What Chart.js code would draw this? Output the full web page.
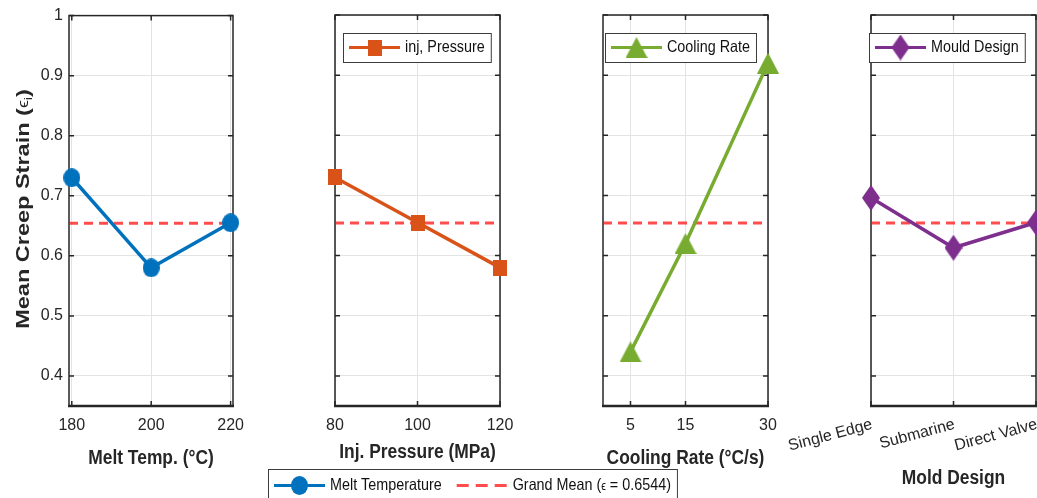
<!DOCTYPE html>
<html>
<head>
<meta charset="utf-8">
<script src="https://cdn.jsdelivr.net/npm/chart.js@4.4.1/dist/chart.umd.min.js"></script>
<style>
  html, body { margin: 0; padding: 0; background: #fff; }
  #wrap { position: relative; width: 1037px; height: 498px; overflow: hidden; }
  #wrap canvas { position: absolute; left: 0; top: 0; }
</style>
</head>
<body>
<div id="wrap">
  <canvas id="melt" width="1037" height="498"></canvas>
  <canvas id="pressure" width="1037" height="498"></canvas>
  <canvas id="cooling" width="1037" height="498"></canvas>
  <canvas id="mould" width="1037" height="498"></canvas>
</div>
<script>
// data
const meltTemps = [180, 200, 220];
const meltStrain = [0.73, 0.58, 0.655];
const pressures = [80, 100, 120];
const pressureStrain = [0.73, 0.655, 0.58];
const coolingRates = [5, 15, 30];
const coolingStrain = [0.44, 0.62, 0.92];
const mouldDesigns = ['Single Edge', 'Submarine', 'Direct Valve'];
const mouldStrain = [0.696, 0.613, 0.655];
const grandMean = 0.6544;
const strainTicks = [0.4, 0.5, 0.6, 0.7, 0.8, 0.9, 1];

const SANS = "'Liberation Sans', Arial, sans-serif";
const TEXT = '#262626';
const GRID = '#e3e3e3';
const MEAN_RED = 'rgba(255, 0, 0, 0.7)';
const SQUEEZE = 0.87; // the original text is set narrow

function makeMarker(shape, w, h, color) {
  const c = document.createElement('canvas');
  c.width = w; c.height = h;
  const g = c.getContext('2d');
  g.fillStyle = color;
  g.beginPath();
  if (shape === 'circle') g.ellipse(w / 2, h / 2, w / 2, h / 2, 0, 0, Math.PI * 2);
  else if (shape === 'square') g.rect(0, 0, w, h);
  else if (shape === 'triangle') { g.moveTo(w / 2, 0); g.lineTo(w, h); g.lineTo(0, h); g.closePath(); }
  else { g.moveTo(w / 2, 0); g.lineTo(w, h / 2); g.lineTo(w / 2, h); g.lineTo(0, h / 2); g.closePath(); }
  g.fill();
  return c;
}

const blue = '#0072BD', orange = '#D95319', green = '#77AC30', purple = '#7E2F8E';
const circle = makeMarker('circle', 17, 19, blue);
const square = makeMarker('square', 14, 16, orange);
const triangle = makeMarker('triangle', 22, 21, green);
const diamond = makeMarker('diamond', 18, 26, purple);

// text pieces drawn one after another: [text, font, dy], squeezed sideways
function runsWidth(ctx, runs, sx) {
  let w = 0;
  runs.forEach(r => { ctx.font = r[1]; w += ctx.measureText(r[0]).width * sx; });
  return w;
}
function drawRuns(ctx, x, y, runs, sx) {
  runs.forEach(r => {
    ctx.font = r[1];
    ctx.save();
    ctx.translate(x, y + (r[2] || 0));
    ctx.scale(sx, 1);
    ctx.fillText(r[0], 0, 0);
    ctx.restore();
    x += ctx.measureText(r[0]).width * sx;
  });
  return x;
}

function drawLegend(ctx, left, top, h, items) {
  const cy = top + h / 2;
  ctx.save();
  ctx.textBaseline = 'middle';
  let x = left + 6;
  const parts = [];
  items.forEach((it, i) => {
    if (i > 0) x += 15;
    parts.push({ it, x });
    x += 51 + 5;
    x += runsWidth(ctx, it.runs, SQUEEZE);
  });
  const right = x + 6;
  ctx.fillStyle = '#fff';
  ctx.fillRect(left, top, right - left, h);
  ctx.strokeStyle = '#3c3c3c';
  ctx.lineWidth = 1;
  ctx.strokeRect(left + 0.5, top + 0.5, right - left, h);
  parts.forEach(p => {
    ctx.beginPath();
    ctx.strokeStyle = p.it.color;
    ctx.lineWidth = 3;
    ctx.setLineDash(p.it.dash || []);
    ctx.moveTo(p.x, cy);
    ctx.lineTo(p.x + 51, cy);
    ctx.stroke();
    ctx.setLineDash([]);
    if (p.it.marker) {
      const m = p.it.marker;
      ctx.drawImage(m, p.x + 25.5 - m.width / 2, cy - m.height / 2);
    }
    ctx.fillStyle = '#111';
    drawRuns(ctx, p.x + 56, cy, p.it.runs, SQUEEZE);
  });
  ctx.restore();
}

const frame = {
  id: 'frame',
  beforeDatasetsDraw(chart) {
    const { ctx, chartArea: a, scales: { x, y } } = chart;
    ctx.save();
    ctx.strokeStyle = TEXT;
    ctx.lineWidth = 1.5;
    ctx.beginPath();
    y.ticks.forEach(t => {
      const py = y.getPixelForValue(t.value);
      ctx.moveTo(a.left, py); ctx.lineTo(a.left + 5, py);
      ctx.moveTo(a.right, py); ctx.lineTo(a.right - 5, py);
    });
    x.ticks.forEach((t, i) => {
      const px = x.getPixelForTick(i);
      ctx.moveTo(px, a.bottom); ctx.lineTo(px, a.bottom - 5);
      ctx.moveTo(px, a.top); ctx.lineTo(px, a.top + 5);
    });
    ctx.stroke();
    ctx.strokeRect(a.left, a.top, a.width, a.height);
    ctx.lineWidth = 2.5;
    ctx.beginPath();
    ctx.moveTo(a.left - 1, a.bottom); ctx.lineTo(a.right + 1, a.bottom);
    ctx.stroke();
    ctx.restore();
  },
  afterDraw(chart, args, opts) {
    const { ctx, chartArea: a } = chart;
    ctx.save();
    ctx.fillStyle = TEXT;
    ctx.textBaseline = 'middle';
    const title = [[opts.xTitle, 'bold 20px ' + SANS]];
    const tw = runsWidth(ctx, title, SQUEEZE);
    drawRuns(ctx, (a.left + a.right) / 2 - tw / 2, opts.titleY, title, SQUEEZE);

    if (opts.yTitle) {
      ctx.save();
      ctx.translate(24, 209);
      ctx.rotate(-Math.PI / 2);
      ctx.scale(1, 0.82);
      const runs = [
        ['Mean Creep Strain (', 'bold 23.5px ' + SANS],
        ['\u03F5', '18px ' + SANS],
        ['i', '14px ' + SANS, 6],
        [')', 'bold 23.5px ' + SANS]
      ];
      const w = runsWidth(ctx, runs, 1);
      drawRuns(ctx, -w / 2, 0, runs, 1);
      ctx.restore();
    }
    if (opts.legend) {
      drawLegend(ctx, a.left + opts.legend.dx, 33, 29, opts.legend.items);
    }
    if (opts.bottomLegend) {
      drawLegend(ctx, 268, 469, 33, opts.bottomLegend);
    }
    ctx.restore();
  }
};

const legendFont = '16.5px ' + SANS;

function panel(id, o) {
  const points = o.labels ? o.values : o.xs.map((v, i) => ({ x: v, y: o.values[i] }));
  const meanPoints = o.labels
    ? [{ x: o.labels[0], y: grandMean }, { x: o.labels[o.labels.length - 1], y: grandMean }]
    : [{ x: o.xMin, y: grandMean }, { x: o.xMax, y: grandMean }];
  return new Chart(document.getElementById(id), {
    type: 'line',
    data: {
      labels: o.labels,
      datasets: [
        { data: points, borderColor: o.color, backgroundColor: o.color, borderWidth: 3.5,
          pointStyle: o.marker, pointRadius: 10, clip: false, tension: 0 },
        { data: meanPoints, borderColor: MEAN_RED, borderWidth: 3, borderDash: [9, 6],
          pointRadius: 0, clip: false }
      ]
    },
    options: {
      responsive: false,
      animation: false,
      events: [],
      layout: { autoPadding: false, padding: { left: o.padLeft, right: o.padRight, top: 15, bottom: 0 } },
      plugins: {
        legend: { display: false },
        tooltip: { enabled: false },
        frame: o.frame
      },
      scales: {
        x: {
          type: o.labels ? 'category' : 'linear',
          min: o.xMin,
          max: o.xMax,
          offset: false,
          afterBuildTicks: s => { if (o.xs) s.ticks = o.xs.map(v => ({ value: v })); },
          afterFit: s => { s.height = 92; s.paddingLeft = 0; s.paddingRight = 0; },
          grid: { color: GRID, drawTicks: false },
          border: { display: false },
          ticks: {
            autoSkip: false,
            maxRotation: o.rotation || 0,
            minRotation: o.rotation || 0,
            padding: o.rotation ? 9 : 10,
            labelOffset: o.rotation ? 1 : 0,
            color: TEXT,
            font: { family: SANS, size: 16 }
          }
        },
        y: {
          min: 0.35,
          max: 1,
          afterBuildTicks: s => { s.ticks = strainTicks.map(v => ({ value: v })); },
          afterFit: s => { s.width = o.yWidth; },
          grid: { color: GRID, drawTicks: false },
          border: { display: false },
          ticks: {
            display: o.yWidth > 0,
            padding: 6,
            color: TEXT,
            font: { family: SANS, size: 16 },
            callback: v => String(v)
          }
        }
      }
    },
    plugins: [frame]
  });
}

panel('melt', {
  xs: meltTemps, values: meltStrain, xMin: 179.3, xMax: 220.6,
  color: blue, marker: circle, padLeft: 0, yWidth: 69, padRight: 804,
  frame: {
    xTitle: 'Melt Temp. (\u00B0C)', titleY: 458, yTitle: true,
    bottomLegend: [
      { color: blue, marker: circle, runs: [['Melt Temperature', legendFont]] },
      { color: MEAN_RED, dash: [12, 7], runs: [['Grand Mean (', legendFont], ['\u03F5', '12px ' + SANS, 1], [' = 0.6544)', legendFont]] }
    ]
  }
});

panel('pressure', {
  xs: pressures, values: pressureStrain, xMin: 80, xMax: 120,
  color: orange, marker: square, padLeft: 335, yWidth: 0, padRight: 537,
  frame: {
    xTitle: 'Inj. Pressure (MPa)', titleY: 452,
    legend: { dx: 8, items: [{ color: orange, marker: square, runs: [['inj, Pressure', legendFont]] }] }
  }
});

panel('cooling', {
  xs: coolingRates, values: coolingStrain, xMin: 0, xMax: 30,
  color: green, marker: triangle, padLeft: 603, yWidth: 0, padRight: 269,
  frame: {
    xTitle: 'Cooling Rate (\u00B0C/s)', titleY: 458,
    legend: { dx: 2, items: [{ color: green, marker: triangle, runs: [['Cooling Rate', legendFont]] }] }
  }
});

panel('mould', {
  labels: mouldDesigns, values: mouldStrain, rotation: 15,
  color: purple, marker: diamond, padLeft: 871, yWidth: 0, padRight: 1,
  frame: {
    xTitle: 'Mold Design', titleY: 478,
    legend: { dx: -2, items: [{ color: purple, marker: diamond, runs: [['Mould Design', legendFont]] }] }
  }
});
</script>
</body>
</html>
